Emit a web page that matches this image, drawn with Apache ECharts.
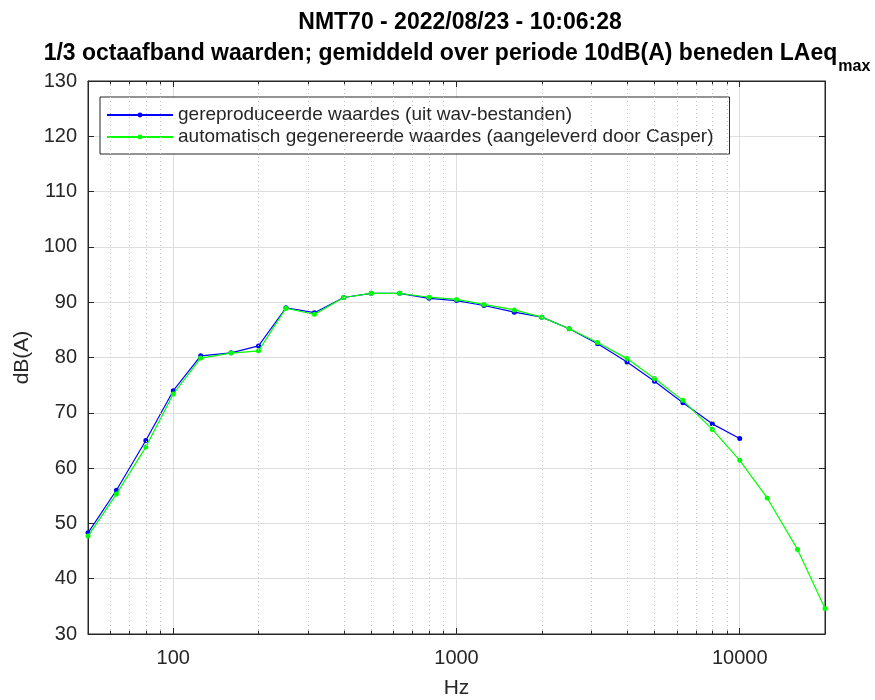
<!DOCTYPE html>
<html>
<head>
<meta charset="utf-8">
<script src="https://cdn.jsdelivr.net/npm/echarts@6/dist/echarts.min.js"></script>
<style>html,body{margin:0;padding:0;background:#fff;}#c{width:875px;height:700px;}</style>
</head>
<body>
<div id="c"></div>
<script>
const freqs = [50, 63, 80, 100, 125, 160, 200, 250, 315, 400, 500, 630, 800, 1000, 1250, 1600, 2000, 2500, 3150, 4000, 5000, 6300, 8000, 10000, 12500, 16000, 20000];
const reproduced = [48.3, 56.0, 65.0, 74.0, 80.3, 80.85, 82.1, 89.0, 88.1, 90.85, 91.6, 91.6, 90.7, 90.3, 89.4, 88.2, 87.3, 85.2, 82.5, 79.2, 75.7, 71.8, 68.0, 65.35];
const generated = [47.7, 55.3, 63.8, 73.4, 79.9, 80.8, 81.2, 88.9, 87.8, 90.85, 91.6, 91.6, 90.9, 90.5, 89.6, 88.6, 87.3, 85.2, 82.7, 79.8, 76.2, 72.25, 67.0, 61.4, 54.6, 45.3, 34.6];
const minorGrid = [60, 70, 80, 90, 200, 300, 400, 500, 600, 700, 800, 900, 2000, 3000, 4000, 5000, 6000, 7000, 8000, 9000];
const seriesNames = ['gereproduceerde waardes (uit wav-bestanden)', 'automatisch gegenereerde waardes (aangeleverd door Casper)'];
const title1 = 'NMT70 - 2022/08/23 - 10:06:28';
const title2 = '1/3 octaafband waarden; gemiddeld over periode 10dB(A) beneden LAeq';

const font = '"Liberation Sans", Arial, Helvetica, sans-serif';
const txt = '#262626';
const chart = echarts.init(document.getElementById('c'));
const pair = (xs, ys) => ys.map((y, i) => [xs[i], y]);

const minorTickLines = [];
minorGrid.forEach(v => {
  minorTickLines.push([{ coord: [v, 30] }, { coord: [v, 30.6] }]);
  minorTickLines.push([{ coord: [v, 129.4] }, { coord: [v, 130] }]);
});

chart.setOption({
  animation: false,
  backgroundColor: '#fff',
  textStyle: { fontFamily: font },
  title: [
    { text: title1, left: 455, top: 6, textAlign: 'center',
      textStyle: { fontFamily: font, fontSize: 23, fontWeight: 'bold', color: '#000' } },
    { text: '{a|' + title2 + '}{b|max}', left: 452, top: 37, textAlign: 'center',
      textStyle: { rich: {
        a: { fontFamily: font, fontSize: 23, fontWeight: 'bold', color: '#000', lineHeight: 28, verticalAlign: 'top' },
        b: { fontFamily: font, fontSize: 16, fontWeight: 'bold', color: '#000', lineHeight: 18, verticalAlign: 'top', padding: [17, 0, 0, 1] }
      } } }
  ],
  grid: { left: 88, right: 50, top: 81, bottom: 66, show: true, borderColor: txt, borderWidth: 1, backgroundColor: 'transparent',
    containLabel: false, outerBoundsMode: 'none' },
  legend: {
    data: seriesNames, orient: 'vertical', left: 100, top: 97,
    backgroundColor: '#fff', borderColor: txt, borderWidth: 1,
    padding: [8, 16, 7, 6], itemWidth: 66, itemHeight: 6, itemGap: 2,
    textStyle: { fontFamily: font, fontSize: 19, lineHeight: 20, color: txt }
  },
  xAxis: [
    { type: 'log', logBase: 10, min: 50, max: 20000, name: 'Hz', nameLocation: 'middle', nameGap: 44,
      nameTextStyle: { fontFamily: font, fontSize: 21, color: txt },
      axisLine: { show: true, lineStyle: { color: txt } },
      axisTick: { show: true, inside: true, length: 6, lineStyle: { color: txt } },
      axisLabel: { margin: 14, fontFamily: font, fontSize: 20, color: txt,
        formatter: v => { const l = Math.log10(v); return Math.abs(l - Math.round(l)) < 1e-6 ? String(Math.round(v)) : ''; } },
      splitLine: { show: true, lineStyle: { color: '#dedede', width: 1 } },
      minorTick: { show: false }, minorSplitLine: { show: false } },
    { type: 'log', logBase: 10, min: 50, max: 20000, position: 'top',
      axisLine: { show: true, lineStyle: { color: txt } },
      axisTick: { show: true, inside: true, length: 6, lineStyle: { color: txt } },
      axisLabel: { show: false }, splitLine: { show: false } }
  ],
  yAxis: [
    { type: 'value', min: 30, max: 130, interval: 10, name: 'dB(A)', nameLocation: 'middle', nameGap: 54,
      nameTextStyle: { fontFamily: font, fontSize: 21, color: txt },
      axisLine: { show: true, lineStyle: { color: txt } },
      axisTick: { show: true, inside: true, length: 6, lineStyle: { color: txt } },
      axisLabel: { margin: 11, fontFamily: font, fontSize: 20, color: txt },
      splitLine: { show: true, lineStyle: { color: '#dedede', width: 1 } } },
    { type: 'value', min: 30, max: 130, interval: 10, position: 'right',
      axisLine: { show: true, lineStyle: { color: txt } },
      axisTick: { show: true, inside: true, length: 6, lineStyle: { color: txt } },
      axisLabel: { show: false }, splitLine: { show: false } }
  ],
  series: [
    { name: 'minor', type: 'line', data: [], silent: true, z: 1,
      markLine: { silent: true, symbol: ['none', 'none'], label: { show: false },
        lineStyle: { type: [1, 3], color: '#c4c4c4', width: 1 },
        emphasis: { disabled: true },
        data: minorGrid.map(v => ({ xAxis: v })) } },
    { name: 'minorTicks', type: 'line', data: [], silent: true, z: 2,
      markLine: { silent: true, symbol: ['none', 'none'], label: { show: false },
        lineStyle: { type: 'solid', color: txt, width: 1 },
        emphasis: { disabled: true },
        data: minorTickLines } },
    { name: seriesNames[0], type: 'line', data: pair(freqs, reproduced), z: 3,
      color: '#0000ff', symbol: 'circle', symbolSize: 5, showSymbol: true,
      lineStyle: { color: '#0000ff', width: 1.2 }, itemStyle: { color: '#0000ff' } },
    { name: seriesNames[1], type: 'line', data: pair(freqs, generated), z: 4,
      color: '#00ff00', symbol: 'circle', symbolSize: 5, showSymbol: true,
      lineStyle: { color: '#00ff00', width: 1.2 }, itemStyle: { color: '#00ff00' } }
  ]
});
</script>
</body>
</html>
